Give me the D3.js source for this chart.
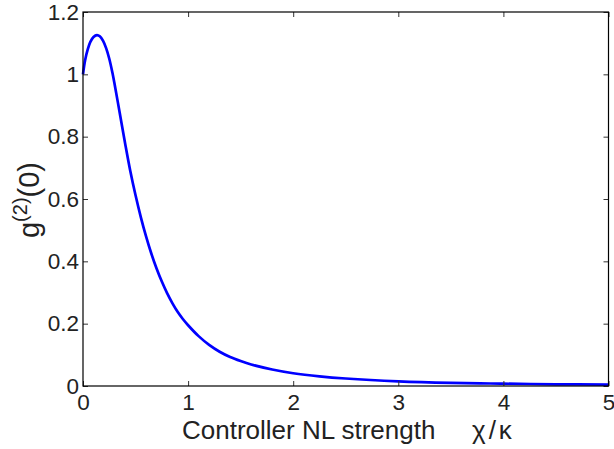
<!DOCTYPE html>
<html>
<head>
<meta charset="utf-8">
<script src="https://cdn.jsdelivr.net/npm/d3@7"></script>
<style>
  body { margin: 0; background: #fff; }
  svg text { font-family: "Liberation Sans", Arial, sans-serif; fill: #222; }
  .tick line { stroke: #333; }
</style>
</head>
<body>
<div id="chart"></div>
<script>
// values
var chiKappa = [0, 0.02, 0.045, 0.07, 0.1, 0.133, 0.16, 0.19, 0.22, 0.25, 0.28, 0.3, 0.35, 0.4, 0.45, 0.5, 0.55, 0.6, 0.65, 0.7, 0.75, 0.8, 0.85, 0.9, 0.95, 1.0, 1.1, 1.2, 1.3, 1.4, 1.5, 1.6, 1.8, 2.0, 2.25, 2.5, 3.0, 3.5, 4.0, 4.5, 5.0];
var g2zero   = [1.0, 1.045, 1.08, 1.104, 1.12, 1.126, 1.122, 1.108, 1.084, 1.05, 1.005, 0.97, 0.875, 0.78, 0.69, 0.612, 0.542, 0.48, 0.425, 0.377, 0.335, 0.298, 0.266, 0.238, 0.215, 0.195, 0.16, 0.132, 0.11, 0.093, 0.08, 0.069, 0.053, 0.041, 0.031, 0.024, 0.015, 0.010, 0.0075, 0.0055, 0.0045];
var xTicks = [0, 1, 2, 3, 4, 5];
var yTicks = [0, 0.2, 0.4, 0.6, 0.8, 1, 1.2];

var width = 614, height = 449,
    margin = {top: 12, right: 5.5, bottom: 63, left: 83};

var xScale = d3.scaleLinear().domain([0, 5]).range([margin.left, width - margin.right]);
var yScale = d3.scaleLinear().domain([0, 1.2]).range([height - margin.bottom, margin.top]);

var svg = d3.select("#chart").append("svg")
    .attr("width", width)
    .attr("height", height);

var data = chiKappa.map(function(d, i) { return {x: d, y: g2zero[i]}; });

// curve first, box on top
var line = d3.line()
    .x(function(d) { return xScale(d.x); })
    .y(function(d) { return yScale(d.y); })
    .curve(d3.curveCatmullRom.alpha(0.5));

svg.append("path")
    .datum(data)
    .attr("fill", "none")
    .attr("stroke", "#0000ff")
    .attr("stroke-width", 2.7)
    .attr("d", line);

// bottom and left axes with labels, ticks pointing in
svg.append("g")
    .attr("transform", "translate(0," + yScale(0) + ")")
    .call(d3.axisBottom(xScale).tickValues(xTicks).tickSizeInner(-5).tickSizeOuter(0).tickPadding(8).tickFormat(d3.format("d")));
svg.append("g")
    .attr("transform", "translate(" + xScale(0) + ",0)")
    .call(d3.axisLeft(yScale).tickValues(yTicks).tickSizeInner(-5).tickSizeOuter(0).tickPadding(4).tickFormat(d3.format("~g")));

// mirrored ticks on top and right
svg.append("g")
    .attr("transform", "translate(0," + yScale(1.2) + ")")
    .call(d3.axisTop(xScale).tickValues(xTicks).tickSizeInner(-5).tickSizeOuter(0).tickFormat(""));
svg.append("g")
    .attr("transform", "translate(" + xScale(5) + ",0)")
    .call(d3.axisRight(yScale).tickValues(yTicks).tickSizeInner(-5).tickSizeOuter(0).tickFormat(""));

svg.selectAll(".domain").remove();
svg.selectAll(".tick text").attr("font-size", 22.5).attr("font-family", null);

// box
svg.append("rect")
    .attr("x", xScale(0))
    .attr("y", yScale(1.2))
    .attr("width", xScale(5) - xScale(0))
    .attr("height", yScale(0) - yScale(1.2))
    .attr("fill", "none")
    .attr("stroke", "#000")
    .attr("stroke-width", 1.2);

// axis labels
svg.append("text")
    .attr("x", 182)
    .attr("y", 439)
    .attr("font-size", 26)
    .text("Controller NL strength");
svg.append("text")
    .attr("x", 472)
    .attr("y", 439)
    .attr("font-size", 26)
    .attr("letter-spacing", 3)
    .text("\u03C7/\u03BA");

var ylab = svg.append("text")
    .attr("transform", "translate(39,200) rotate(-90)")
    .attr("text-anchor", "middle")
    .attr("font-size", 29);
ylab.append("tspan").text("g");
ylab.append("tspan").attr("font-size", 20).attr("dy", -12).text("(2)");
ylab.append("tspan").attr("dy", 12).text("(0)");
</script>
</body>
</html>
